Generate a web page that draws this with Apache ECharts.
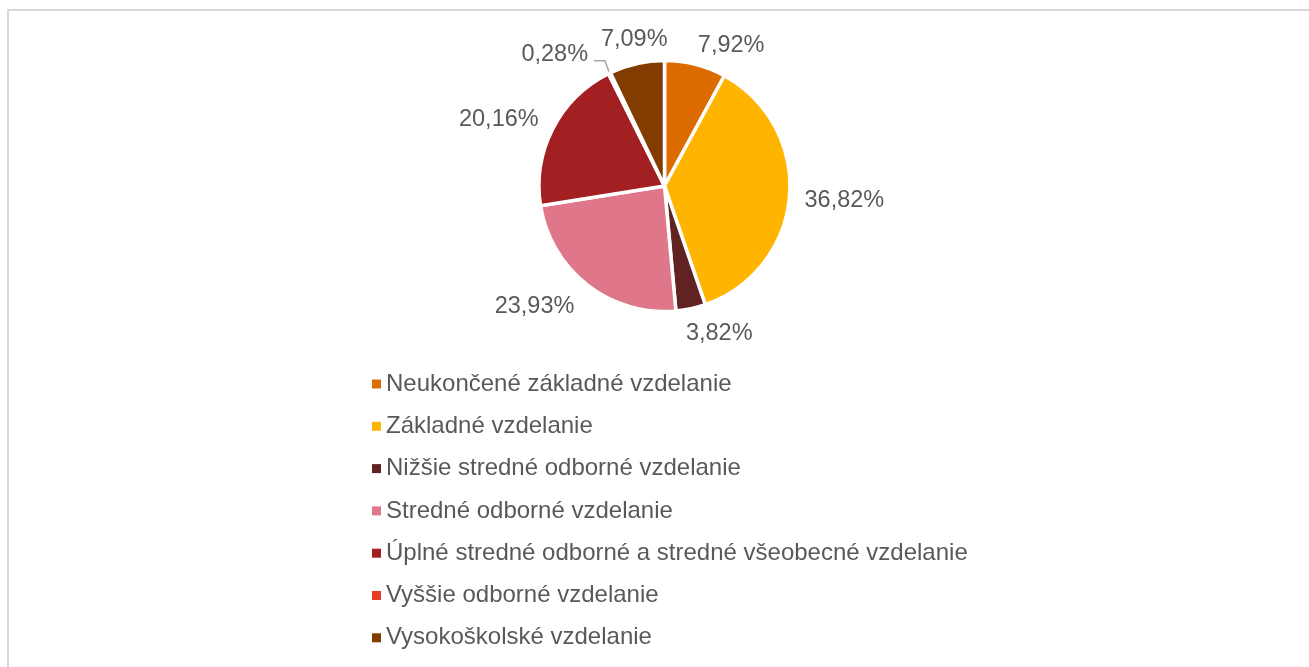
<!DOCTYPE html>
<html>
<head>
<meta charset="utf-8">
<script src="https://cdn.jsdelivr.net/npm/echarts@6/dist/echarts.min.js"></script>
<style>
html,body{margin:0;padding:0;background:#fff;}
#chart{width:1309px;height:667px;}
</style>
</head>
<body>
<div id="chart"></div>
<script>
const categories = [
  'Neukončené základné vzdelanie',
  'Základné vzdelanie',
  'Nižšie stredné odborné vzdelanie',
  'Stredné odborné vzdelanie',
  'Úplné stredné odborné a stredné všeobecné vzdelanie',
  'Vyššie odborné vzdelanie',
  'Vysokoškolské vzdelanie'
];
const values = [7.92, 36.82, 3.82, 23.93, 20.16, 0.28, 7.09];
const colors = ['#DD6C00', '#FFB400', '#612222', '#E07689', '#A21F22', '#E53C24', '#833C00'];
// label nudges (style, mimicking Excel "best fit" placement)
const labelNudge = [[-5, -9], [0, 3], [-12, 15], [-2, 14], [-5, -5], [15, -25], [38, -14]];

const chart = echarts.init(document.getElementById('chart'), null, {renderer: 'canvas'});
const FONT = '"Liberation Sans", Arial, sans-serif';
const TXT = '#595959';

const data = categories.map((name, i) => {
  const item = {name: name, value: values[i], itemStyle: {color: colors[i]}};
  if (values[i] < 1) {
    item.labelLine = {show: true, length: 10, length2: 6, lineStyle: {color: '#A6A6A6', width: 1.5}};
  }
  return item;
});

chart.setOption({
  animation: false,
  backgroundColor: '#fff',
  graphic: [{
    type: 'rect',
    shape: {x: 8, y: 10, width: 1400, height: 700},
    style: {fill: 'none', stroke: '#D9D9D9', lineWidth: 2},
    silent: true
  }],
  legend: {
    orient: 'vertical',
    left: 372,
    top: 372,
    padding: 0,
    icon: 'rect',
    itemWidth: 9,
    itemHeight: 9,
    itemGap: 18.3,
    itemStyle: {borderWidth: 0},
    textStyle: {fontFamily: FONT, fontSize: 24, color: TXT},
    data: categories
  },
  series: [{
    type: 'pie',
    center: [664.5, 186],
    radius: 125.5,
    startAngle: 90,
    clockwise: true,
    avoidLabelOverlap: true,
    itemStyle: {borderColor: '#fff', borderWidth: 3.5},
    label: {
      show: true,
      position: 'outside',
      fontFamily: FONT,
      fontSize: 23.5,
      color: TXT,
      distanceToLabelLine: 5,
      formatter: p => p.value.toFixed(2).replace('.', ',') + '%'
    },
    labelLine: {show: false, length: 10, length2: 0},
    labelLayout: p => {
      const [dx, dy] = labelNudge[p.dataIndex];
      const out = {dx: dx, dy: dy};
      if (values[p.dataIndex] < 1 && p.labelLinePoints) {
        const r = p.labelRect;
        const ex = r.x + r.width + dx + 6;
        const ey = r.y + r.height / 2 + dy + 6;
        const start = p.labelLinePoints[0];
        out.labelLinePoints = [start, [ex + 11, ey], [ex, ey]];
      }
      return out;
    },
    emphasis: {disabled: true},
    data: data
  }]
});
</script>
</body>
</html>
